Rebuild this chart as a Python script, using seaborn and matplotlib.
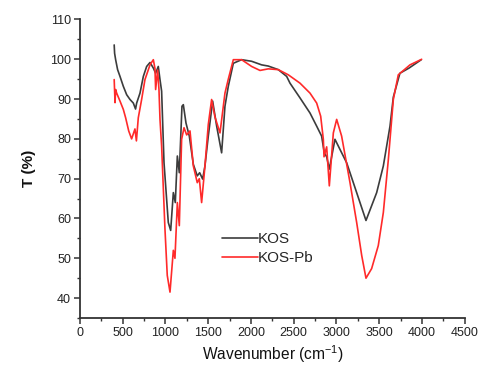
import numpy as np
import pandas as pd
import matplotlib
matplotlib.use("Agg")
import matplotlib.pyplot as plt
from matplotlib.ticker import MultipleLocator
import seaborn as sns

# FTIR spectra
kos_x = [400, 405, 417, 440, 468, 507, 546, 585, 624, 650, 663, 702, 741, 780, 819, 858,
         885, 916, 936, 955, 983, 1033, 1061, 1092, 1115, 1139, 1162, 1193, 1209, 1240,
         1279, 1326, 1372, 1400, 1435, 1462, 1501, 1552, 1599, 1657, 1696, 1735, 1794,
         1891, 2008, 2125, 2203, 2320, 2418, 2457, 2574, 2691, 2769, 2827, 2858, 2886,
         2917, 2983, 3050, 3120, 3237, 3346, 3471, 3549, 3627, 3666, 3743, 3850, 3993]
kos_y = [103.6, 101.5, 99.9, 97.4, 95.7, 93.2, 91.1, 89.9, 89.0, 87.5, 89.0, 91.5, 95.7, 98.2,
         99.2, 97.8, 96.5, 98.2, 94.9, 92.0, 74.0, 59.0, 57.0, 66.5, 64.0, 75.7, 71.5, 88.2,
         88.6, 84.0, 80.7, 73.6, 70.7, 71.5, 69.9, 73.2, 80.7, 89.5, 83.2, 76.5, 88.2, 93.2,
         99.0, 99.9, 99.5, 98.6, 98.3, 97.4, 95.7, 94.0, 90.3, 86.5, 83.2, 80.7, 76.5, 75.5,
         72.4, 79.9, 77.0, 74.0, 66.5, 59.5, 66.5, 73.2, 83.2, 90.5, 96.5, 97.8, 99.9]

pb_x = [400, 410, 417, 429, 468, 507, 534, 570, 604, 643, 660, 682, 721, 760, 819, 858,
        877, 885, 908, 924, 936, 955, 994, 1021, 1053, 1092, 1111, 1139, 1162, 1189, 1217,
        1248, 1287, 1326, 1372, 1396, 1423, 1462, 1501, 1540, 1579, 1638, 1696, 1735, 1794,
        1891, 2008, 2106, 2203, 2320, 2437, 2574, 2691, 2769, 2816, 2847, 2855, 2886, 2917,
        2964, 3003, 3061, 3159, 3237, 3296, 3346, 3412, 3490, 3549, 3608, 3666, 3724, 3861,
        3997]
pb_y = [94.9, 89.1, 92.4, 91.5, 89.5, 87.4, 85.3, 82.0, 80.0, 82.5, 79.5, 85.3, 89.9, 94.9,
        98.6, 99.9, 97.7, 92.4, 97.3, 92.4, 84.9, 78.2, 57.4, 45.7, 41.5, 52.0, 50.0, 64.0,
        58.2, 79.9, 82.8, 81.0, 82.0, 73.2, 69.0, 70.0, 64.0, 73.2, 83.6, 89.9, 85.5, 81.5,
        91.5, 95.0, 99.9, 99.9, 98.2, 97.2, 97.6, 97.4, 96.1, 94.0, 91.5, 89.0, 85.7, 79.9,
        75.5, 78.0, 68.2, 81.5, 84.9, 80.7, 69.0, 59.0, 50.7, 45.0, 47.4, 53.2, 61.5, 74.9,
        89.9, 96.1, 98.6, 100.0]

df = pd.concat([
    pd.DataFrame({"x": kos_x, "T": kos_y, "sample": "KOS"}),
    pd.DataFrame({"x": pb_x, "T": pb_y, "sample": "KOS-Pb"}),
])

sns.set_style("ticks")
plt.rcParams["font.family"] = ["Liberation Sans", "DejaVu Sans"]

fig = plt.figure(figsize=(4.86, 3.65), dpi=100)
ax = fig.add_axes([0.1646, 0.1288, 0.7914, 0.8178])

sns.lineplot(data=df, x="x", y="T", hue="sample", sort=False, estimator=None,
             palette={"KOS": "#3c3c3c", "KOS-Pb": "#ff2a2a"}, linewidth=1.2, ax=ax)

ax.set_xlim(0, 4500)
ax.set_ylim(35, 110)
ax.xaxis.set_major_locator(MultipleLocator(500))
ax.xaxis.set_minor_locator(MultipleLocator(250))
ax.yaxis.set_major_locator(MultipleLocator(10))
ax.yaxis.set_minor_locator(MultipleLocator(5))
ax.set_yticks([40, 50, 60, 70, 80, 90, 100, 110])

sns.despine(ax=ax)
for s in ["left", "bottom"]:
    ax.spines[s].set_linewidth(1.3)
    ax.spines[s].set_color("#333333")
ax.tick_params(which="major", direction="out", length=4, width=1.1, colors="#333333",
               labelsize=9, labelcolor="#222222", pad=2.5)
ax.tick_params(which="minor", direction="out", length=2.5, width=1.0, colors="#333333")

ax.set_xlabel("Wavenumber (cm$^{\\mathregular{-1}}$)", fontsize=11.2, color="#111111", labelpad=3)
ax.set_ylabel("T (%)", fontsize=11, fontweight="bold", color="#111111", labelpad=10)

leg = ax.legend(loc="center left", bbox_to_anchor=(0.35, 0.232), frameon=False,
                fontsize=11, handlelength=2.35, handletextpad=0.0, borderpad=0,
                labelspacing=0.3, title=None)

fig.savefig("out.png", dpi=100)
